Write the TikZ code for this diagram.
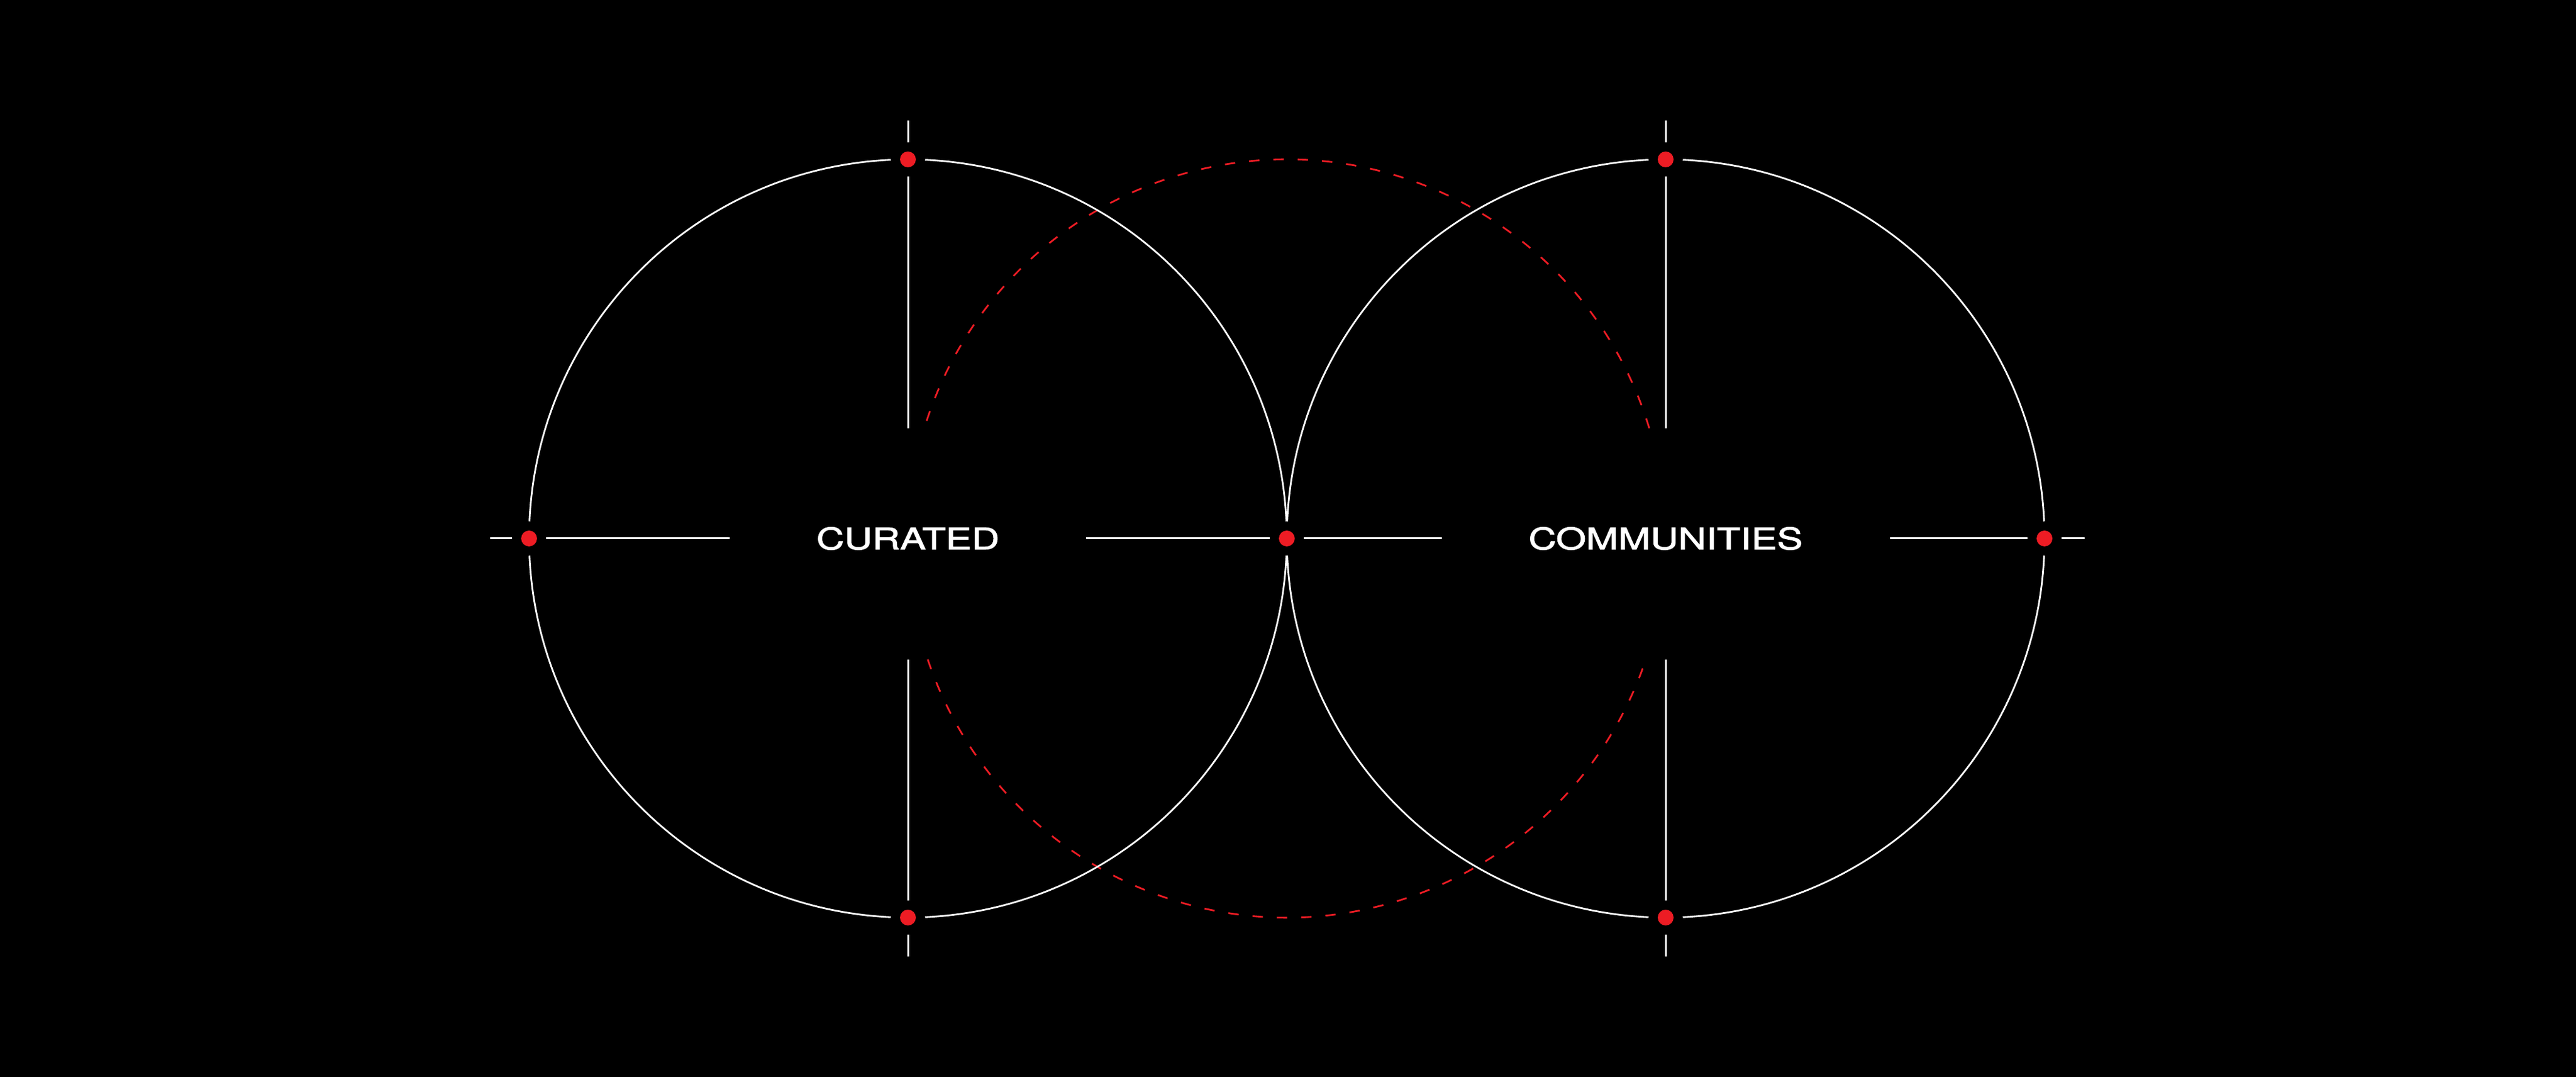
\documentclass[tikz,border=0pt]{standalone}
\usepackage{fontspec}
\newfontfamily\wordfont{TeX Gyre Heros}[FakeStretch=1.3,FakeBold=2]
\usepackage{xcolor}
\usetikzlibrary{positioning}
\definecolor{dotred}{HTML}{ED1C24}
\tikzset{%
    % Specifications for style of nodes and lines:
    ring/.style = {draw=white, line width=0.8pt},
    guide/.style = {draw=white, line width=0.85pt},
    orbit/.style = {draw=dotred, line width=0.8pt, dash pattern=on 0.17cm off 0.23cm},
    dot/.style = {circle, fill=dotred, minimum size=0.26cm, inner sep=0pt, outer sep=0.15cm},
    word/.style = {text=white, font=\wordfont\fontsize{13.9}{16}\selectfont, inner sep=0pt, outer xsep=1.43cm}
}
\begin{document}
\begin{tikzpicture}
    \fill[black] (0,0) rectangle (42.36,17.70);
    \def\rad{6.23}
    \coordinate (cL) at (14.93,8.85);
    \coordinate (cM) at (21.16,8.85);
    \coordinate (cR) at (27.39,8.85);
    % dashed middle circle
    \draw[orbit] (cM) ++(16.9:\rad) arc[start angle=16.9, end angle=163.1, radius=\rad];
    \draw[orbit] (cM) ++(198.6:\rad) arc[start angle=198.6, end angle=341.4, radius=\rad];
    % the two rings, cut open at the dots
    \foreach \c in {cL,cR}{
        \foreach \a in {0,90,180,270}
            \draw[ring] (\c) ++(\a+2.6:\rad) arc[start angle=\a+2.6, end angle=\a+87.4, radius=\rad];
    }
    \node[dot] (lW) at (8.70,8.85) {};
    \node[dot] (lN) at (14.93,15.08) {};
    \node[dot] (lS) at (14.93,2.62) {};
    \node[dot] (mid) at (21.16,8.85) {};
    \node[dot] (rN) at (27.39,15.08) {};
    \node[dot] (rS) at (27.39,2.62) {};
    \node[dot] (rE) at (33.62,8.85) {};
    \node[word] (cur) at (14.93,8.85) {CURATED};
    \node[word] (com) at (27.39,8.85) {COMMUNITIES};
    \coordinate (lNi) at (14.93,10.66);
    \coordinate (lSi) at (14.93,6.86);
    \coordinate (rNi) at (27.39,10.66);
    \coordinate (rSi) at (27.39,6.86);
    % cross lines
    \draw[guide] (lW) -- (cur);
    \draw[guide] (cur) -- (mid);
    \draw[guide] (mid) -- (com);
    \draw[guide] (com) -- (rE);
    \draw[guide] (lN) -- (lNi);
    \draw[guide] (lSi) -- (lS);
    \draw[guide] (rN) -- (rNi);
    \draw[guide] (rSi) -- (rS);
    % short ticks outside
    \draw[guide] (lW.west) -- ++(-0.36,0);
    \draw[guide] (lN.north) -- ++(0,0.36);
    \draw[guide] (lS.south) -- ++(0,-0.36);
    \draw[guide] (rN.north) -- ++(0,0.36);
    \draw[guide] (rS.south) -- ++(0,-0.36);
    \draw[guide] (rE.east) -- ++(0.38,0);
\end{tikzpicture}
\end{document}
